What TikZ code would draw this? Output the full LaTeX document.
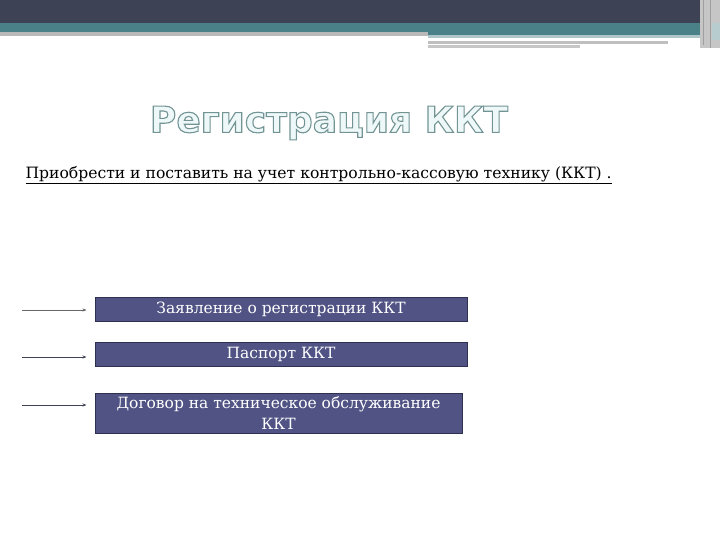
\documentclass[tikz,border=0pt]{standalone}
\usepackage{fontspec}
\setmainfont{DejaVu Serif}
\newfontfamily\ttlfont{DejaVu Sans}
\usetikzlibrary{arrows.meta}

\definecolor{barDark}{HTML}{3E4255}
\definecolor{barTeal}{HTML}{4A8088}
\definecolor{boxFill}{HTML}{505384}
\definecolor{boxLine}{HTML}{2E3050}
\definecolor{ttlFill}{HTML}{EEF8F8}

% outlined text: fill and stroke
\newcommand{\outl}[1]{\special{pdf:literal direct 2 Tr 1.1 w 0.45 0.58 0.58 RG}#1\special{pdf:literal direct 0 Tr}}

\begin{document}
\begin{tikzpicture}[x=1pt,y=-1pt,
    box/.style={draw=boxLine,line width=1pt,fill=boxFill,text=white,
      minimum height=24pt,inner sep=1pt,font=\fontsize{15.5}{21}\selectfont,
      align=center},
    arr/.style={-{Stealth[length=4pt,width=3pt]},draw=barDark,line width=0.9pt,shorten >=8pt},
    ttl/.style={font=\ttlfont\bfseries\fontsize{36}{40}\selectfont}]

  \useasboundingbox (0,0) rectangle (720,540);
  \fill[white] (0,0) rectangle (720,540);

  % header bars
  \fill[barDark] (0,0) rectangle (700,23);
  \fill[barTeal] (0,23) rectangle (700,35);
  \fill[gray!55] (0,32) rectangle (428,36);
  \fill[barTeal!45] (428,35) rectangle (700,38);
  \fill[gray!50] (428,41) rectangle (668,44);
  \fill[gray!45] (428,45) rectangle (580,48);
  \fill[gray!45] (700,0) rectangle (720,48);
  \fill[barTeal!40] (712,23) rectangle (720,40);
  \draw[gray!75,line width=0.8pt] (703,0) -- (703,45) (710,0) -- (710,48);

  % title
  \node[ttl,text=ttlFill] (title) at (329,123) {\outl{Регистрация ККТ}};

  \node[anchor=west,font=\fontsize{15.6}{18}\selectfont] (sub) at (22,175)
    {\underline{Приобрести и поставить на учет контрольно-кассовую технику (ККТ) .}};

  % documents
  \node[box,minimum width=372pt] (b1) at (281,309) {Заявление о регистрации ККТ};
  \node[box,minimum width=372pt] (b2) at (281,354) {Паспорт ККТ};
  \node[box,minimum width=367pt,minimum height=40pt] (b3) at (278.5,413)
    {Договор на техническое обслуживание\\ККТ};

  \coordinate (s1) at (22,310);
  \coordinate (s2) at (22,357);
  \coordinate (s3) at (22,405);

  \draw[arr,line width=0.5pt,draw=gray!80!black] (s1) -- (s1 -| b1.west);
  \draw[arr] (s2) -- (s2 -| b2.west);
  \draw[arr] (s3) -- (s3 -| b3.west);

\end{tikzpicture}
\end{document}
